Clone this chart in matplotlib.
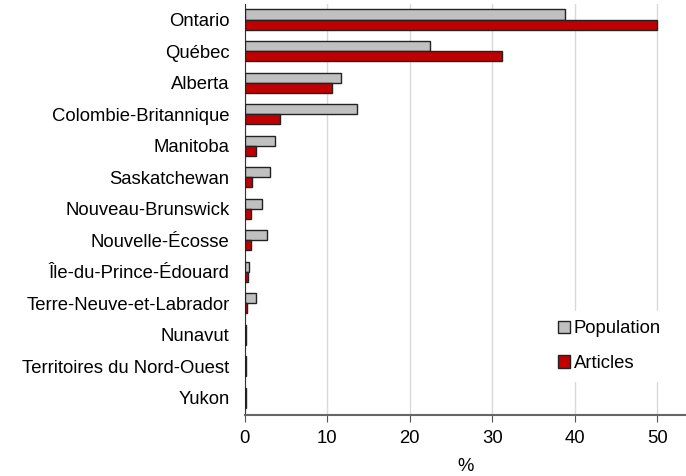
import matplotlib
matplotlib.use("Agg")
import matplotlib.pyplot as plt
import numpy as np

provinces = [
    "Ontario", "Québec", "Alberta", "Colombie-Britannique", "Manitoba",
    "Saskatchewan", "Nouveau-Brunswick", "Nouvelle-Écosse",
    "Île-du-Prince-Édouard", "Terre-Neuve-et-Labrador", "Nunavut",
    "Territoires du Nord-Ouest", "Yukon",
]
population = [38.8, 22.5, 11.7, 13.6, 3.7, 3.1, 2.1, 2.7, 0.5, 1.4, 0.1, 0.1, 0.1]
articles = [50.0, 31.2, 10.6, 4.3, 1.4, 0.9, 0.8, 0.7, 0.4, 0.2, 0.1, 0.1, 0.1]
x_ticks = [0, 10, 20, 30, 40, 50]

plt.rcParams["font.family"] = ["Liberation Sans", "DejaVu Sans"]
fs = 13.3

fig = plt.figure(figsize=(6.86, 4.76), dpi=100)
ax = fig.add_axes([0.357, 0.128, 0.643, 0.864])

y = np.arange(len(provinces))
h = 0.32
ax.barh(y - h / 2, population, height=h, color="#c0c0c0", edgecolor="#222222",
        linewidth=1.0, label="Population", zorder=3)
ax.barh(y + h / 2, articles, height=h, color="#c00000", edgecolor="#222222",
        linewidth=1.0, label="Articles", zorder=3)

ax.set_ylim(len(provinces) - 0.45, -0.5)
ax.set_xlim(0, 53.5)
ax.set_yticks(y)
ax.set_yticklabels(provinces, fontsize=fs)
ax.set_xticks(x_ticks)
ax.tick_params(axis="y", length=0, pad=11)
ax.tick_params(axis="x", labelsize=fs, direction="out", length=5,
               color="#555555", pad=6)
ax.set_xlabel("%", fontsize=fs, labelpad=8)

ax.grid(axis="x", color="#d9d9d9", linewidth=1.0, zorder=0)
ax.set_axisbelow(True)
for side in ["top", "right"]:
    ax.spines[side].set_visible(False)
ax.spines["left"].set_color("#333333")
ax.spines["bottom"].set_color("#666666")
ax.spines["bottom"].set_linewidth(1.5)

ax.legend(loc="lower right", bbox_to_anchor=(0.985, 0.06), fontsize=fs,
          frameon=True, edgecolor="white", facecolor="white", framealpha=1,
          handlelength=0.65, handleheight=0.65, handletextpad=0.2,
          labelspacing=0.95, borderpad=0.5, fancybox=False)

fig.savefig("out.png", dpi=100)
